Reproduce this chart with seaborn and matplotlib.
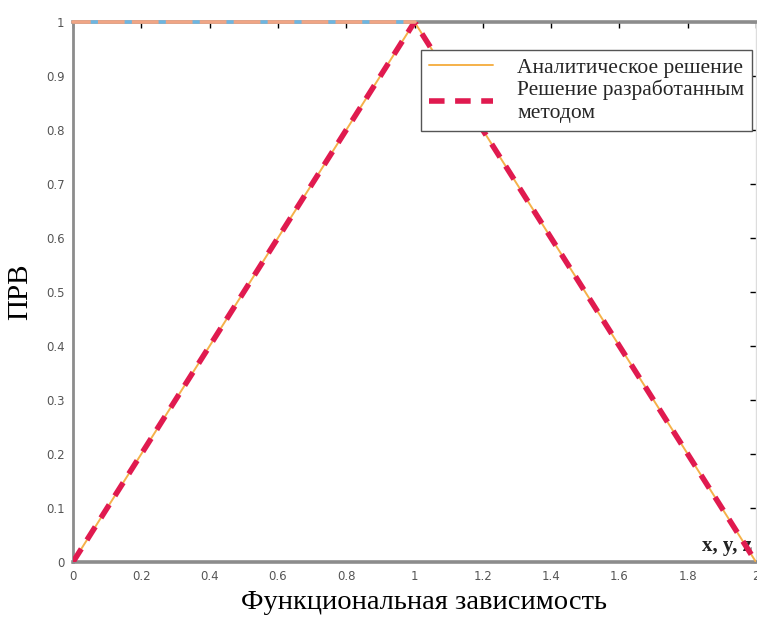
import matplotlib
matplotlib.use("Agg")
import matplotlib.pyplot as plt
import seaborn as sns
import pandas as pd

# Data
x_vals = [0.0, 1.0, 2.0]
analytic = [0.0, 1.0, 0.0]
method = [0.0, 1.0, 0.0]
top_x = [0.0, 1.0]
top_y = [1.0, 1.0]
xticks = [0, 0.2, 0.4, 0.6, 0.8, 1, 1.2, 1.4, 1.6, 1.8, 2]
yticks = [0, 0.1, 0.2, 0.3, 0.4, 0.5, 0.6, 0.7, 0.8, 0.9, 1]
label_analytic = "Аналитическое решение"
label_method = "Решение разработанным\nметодом"

sns.set_style("white")
plt.rcParams['font.family'] = ['DejaVu Sans']

fig = plt.figure(figsize=(7.57, 6.17), dpi=100)
ax = fig.add_axes([73/757, 1-562/617, (756-73)/757, (562-22)/617])

df = pd.DataFrame({"x": x_vals, "a": analytic, "m": method})
dft = pd.DataFrame({"x": top_x, "y": top_y})

sns.lineplot(data=df, x="x", y="a", ax=ax, color="#f5b14a", lw=1.4,
             label=label_analytic, zorder=3)
sns.lineplot(data=df, x="x", y="m", ax=ax, color="#e01a4f", lw=4.0,
             label=label_method, zorder=4)
ax.lines[-1].set_dashes((2.8, 1.9))

# top boundary line (salmon/blue)
sns.lineplot(data=dft, x="x", y="y", ax=ax, color="#f0a585", lw=2.6,
             legend=False, zorder=5)
ax.lines[-1].set_clip_on(False)
sns.lineplot(data=dft, x="x", y="y", ax=ax, color="#6cb6e2", lw=2.6,
             legend=False, zorder=6)
ax.lines[-1].set_clip_on(False)
ax.lines[-1].set_linestyle((4.5, (2.0, 7.4)))

ax.set_xlim(0, 2)
ax.set_ylim(0, 1)
ax.set_xticks(xticks)
ax.set_yticks(yticks)
ax.set_xticklabels([f"{t:g}" for t in xticks])
ax.set_yticklabels([f"{t:g}" for t in yticks])
ax.tick_params(direction="in", length=4, width=1, colors="black",
               labelcolor="#555555", labelsize=8.5, top=True, right=True,
               pad=6)

for s in ["left", "bottom", "top"]:
    ax.spines[s].set_color("#8c8c8c")
ax.spines["left"].set_linewidth(2.0)
ax.spines["bottom"].set_linewidth(2.6)
ax.spines["top"].set_linewidth(2.6)
ax.spines["right"].set_color("#dddddd")
ax.spines["right"].set_linewidth(1.0)

ax.set_xlabel("Функциональная зависимость", family="Liberation Serif",
              fontsize=20.5, color="black")
ax.xaxis.set_label_coords(0.5146, -0.052, transform=ax.transAxes)
ax.xaxis.label.set_va("top")
ax.set_ylabel("ПРВ", family="Liberation Serif", fontsize=21, color="black",
              labelpad=9)

ax.text(0.994, 0.012, "x, y, z", transform=ax.transAxes, ha="right",
        va="bottom", family="Liberation Serif", fontweight="bold",
        fontsize=15, color="#222222")

leg = ax.legend(loc="upper right", bbox_to_anchor=(0.994, 0.948),
                prop={"family": "Liberation Serif", "size": 15.5},
                frameon=True, fancybox=False, handlelength=3.0,
                borderpad=0.36, labelspacing=0.08, handletextpad=1.1,
                borderaxespad=0.0, framealpha=1.0)
leg.get_frame().set_edgecolor("#555555")
leg.get_frame().set_linewidth(1.0)
for t in leg.get_texts():
    t.set_linespacing(1.3)

fig.savefig("out.png", dpi=100)
